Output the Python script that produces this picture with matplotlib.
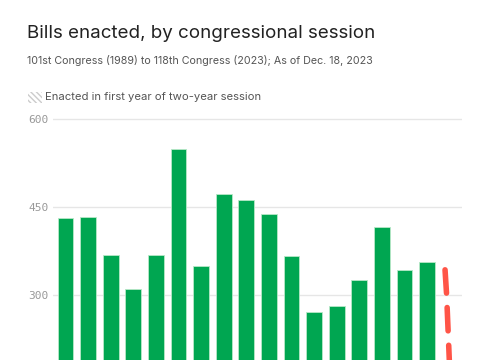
import numpy as np
import matplotlib
matplotlib.use('Agg')
from matplotlib import pyplot as plt
from matplotlib.patches import Rectangle

congresses = ['101st', '102nd', '103rd', '104th', '105th', '106th', '107th', '108th', '109th',
              '110th', '111th', '112th', '113th', '114th', '115th', '116th', '117th']
bills = [431, 433, 368, 311, 368, 549, 349, 472, 463, 439, 366, 271, 281, 326, 416, 342, 357]
yticks = [300, 450, 600]

W, H = 485, 360
fig = plt.figure(figsize=(W / 100, H / 100), dpi=100)

def fx(px):
    return px / W

def fy(py):
    return 1 - py / H

# titles
fig.text(fx(27), fy(33), 'Bills enacted, by congressional session', family='Inter',
         fontsize=13.5, color='#222222', va='center', ha='left')
fig.text(fx(27), fy(61), '101st Congress (1989) to 118th Congress (2023); As of Dec. 18, 2023',
         family='Inter', fontsize=7.7, color='#555555', va='center', ha='left')

# legend swatch
plt.rcParams['hatch.color'] = '#cccccc'
plt.rcParams['hatch.linewidth'] = 1.0
sw = Rectangle((fx(28), fy(103)), fx(14), 11 / H, transform=fig.transFigure,
               facecolor='white', edgecolor='#cccccc', linewidth=0, hatch='\\\\\\\\\\\\')
fig.patches.append(sw)
fig.text(fx(45), fy(97), 'Enacted in first year of two-year session', family='Inter',
         fontsize=8.1, color='#555555', va='center', ha='left')

# axes: bottom of figure ~ value 189, 600 sits at y=119px
ax = fig.add_axes([fx(53), 0, fx(462) - fx(53), 1 - 107.6 / H])
x = np.arange(len(bills))
ax.bar(x, bills, width=0.7, color='#00a651', edgecolor='#b8e8c8', linewidth=0.6, zorder=2)
ax.set_xlim(-0.55, 17.54)
ax.set_ylim(189, 620)

# 118th congress marker
ax.plot([16.79, 16.86, 17.02], [343, 300, 150], color='#ff5447', lw=4,
        dashes=(4.2, 2.6), dash_capstyle='round', solid_capstyle='round', zorder=3, clip_on=True)

ax.set_yticks(yticks)
ax.yaxis.grid(True, color='#e6e6e6', linewidth=1, zorder=0)
ax.set_xticks([])
for s in ax.spines.values():
    s.set_visible(False)
ax.tick_params(axis='y', length=0, pad=3)
for lab in ax.get_yticklabels():
    lab.set_family('DejaVu Sans Mono')
    lab.set_fontsize(8)
    lab.set_color('#999999')

fig.savefig('out.png', dpi=100)
